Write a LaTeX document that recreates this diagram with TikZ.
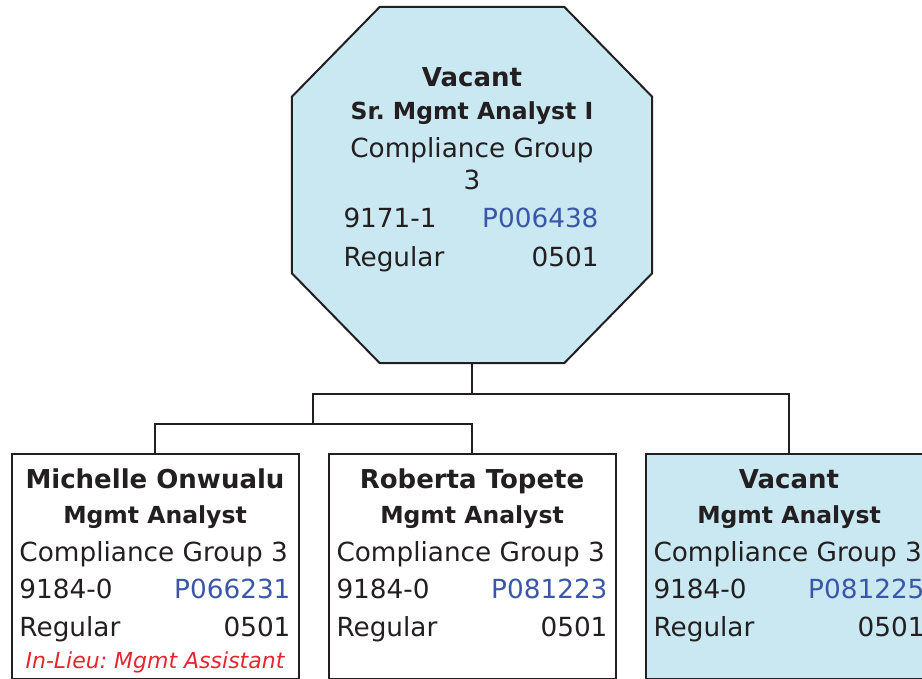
\documentclass[tikz,border=0pt]{standalone}
\usepackage{fontspec}
\setmainfont{DejaVu Sans}
\frenchspacing

\definecolor{cardfill}{RGB}{201,232,241}
\definecolor{linecol}{RGB}{35,31,32}
\definecolor{poscol}{RGB}{58,86,168}
\definecolor{lieucol}{RGB}{229,38,48}

\tikzset{
  x=1pt, y=-1pt,
  card/.style={draw=linecol, line width=2pt, rectangle, minimum width=287pt,
    minimum height=225pt, anchor=north, inner sep=0pt},
  vacantcard/.style={card, fill=cardfill},
  wire/.style={draw=linecol, line width=2pt},
  txt/.style={anchor=base, inner sep=0pt, text=linecol},
  headtxt/.style={txt, font=\fontsize{26}{30}\selectfont\bfseries},
  titletxt/.style={txt, font=\fontsize{23.5}{28}\selectfont\bfseries},
  bodytxt/.style={txt, font=\fontsize{26.3}{30}\selectfont},
  lieutxt/.style={txt, font=\fontsize{22}{26}\selectfont\itshape, text=lieucol},
}

% a row with a left and a right entry spread over the given width
\newcommand\spreadrow[3]{\makebox[#1][s]{#2\hfill#3}}

\begin{document}
\begin{tikzpicture}
\useasboundingbox (0,0) rectangle (922,679);

% ---- head position: chamfered octagon ----
\node[minimum width=360pt, minimum height=356pt, inner sep=0pt] (top) at (472,185) {};
\path[wire, fill=cardfill]
  ([xshift=88pt]top.north west) -- ([xshift=-88pt]top.north east)
  -- ([yshift=-90pt]top.north east) -- ([yshift=90pt]top.south east)
  -- ([xshift=-88pt]top.south east) -- ([xshift=88pt]top.south west)
  -- ([yshift=90pt]top.south west) -- ([yshift=-90pt]top.north west) -- cycle;

\node[headtxt]  (t1) at (472,87)  {Vacant};
\node[titletxt] (t2) at (472,120) {Sr. Mgmt Analyst I};
\node[bodytxt]  (t3) at (472,158) {Compliance Group};
\node[bodytxt]  (t4) at (472,190) {3};
\node[bodytxt]  (t5) at (471,228) {\spreadrow{255pt}{9171-1}{\textcolor{poscol}{P006438}}};
\node[bodytxt]  (t6) at (471,267) {\spreadrow{255pt}{Regular}{0501}};

% ---- subordinate positions ----
\node[card]       (b1) at (155,453) {};
\node[card]       (b2) at (472,453) {};
\node[vacantcard] (b3) at (789,453) {};

\node[headtxt]  (b1a) at (155,488) {Michelle Onwualu};
\node[titletxt] (b1b) at (155,523) {Mgmt Analyst};
\node[bodytxt]  (b1c) at (155,561) {\spreadrow{271pt}{Compliance Group 3}{}};
\node[bodytxt]  (b1d) at (155,598) {\spreadrow{271pt}{9184-0}{\textcolor{poscol}{P066231}}};
\node[bodytxt]  (b1e) at (155,636) {\spreadrow{271pt}{Regular}{0501}};
\node[lieutxt]  (b1f) at (155,668) {In-Lieu: Mgmt Assistant};

\node[headtxt]  (b2a) at (472,488) {Roberta Topete};
\node[titletxt] (b2b) at (472,523) {Mgmt Analyst};
\node[bodytxt]  (b2c) at (472,561) {\spreadrow{271pt}{Compliance Group 3}{}};
\node[bodytxt]  (b2d) at (472,598) {\spreadrow{271pt}{9184-0}{\textcolor{poscol}{P081223}}};
\node[bodytxt]  (b2e) at (472,636) {\spreadrow{271pt}{Regular}{0501}};

\node[headtxt]  (b3a) at (789,488) {Vacant};
\node[titletxt] (b3b) at (789,523) {Mgmt Analyst};
\node[bodytxt]  (b3c) at (789,561) {\spreadrow{271pt}{Compliance Group 3}{}};
\node[bodytxt]  (b3d) at (789,598) {\spreadrow{271pt}{9184-0}{\textcolor{poscol}{P081225}}};
\node[bodytxt]  (b3e) at (789,636) {\spreadrow{271pt}{Regular}{0501}};

% ---- reporting lines ----
\coordinate (bus1) at (472,394);
\coordinate (bus2) at (313,424);
\draw[wire] (top.south) -- (bus1);
\draw[wire] (bus1) -| (b3.north);
\draw[wire] (bus1) -| (bus2);
\draw[wire] (bus2) -| (b1.north);
\draw[wire] (bus2) -| (b2.north);
\end{tikzpicture}
\end{document}
